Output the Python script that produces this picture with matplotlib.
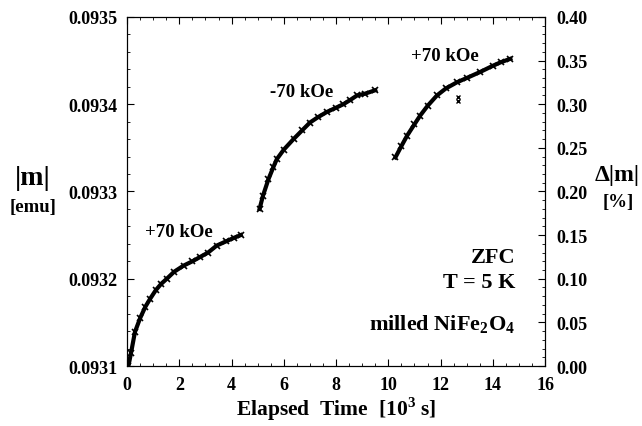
import numpy as np
import matplotlib
matplotlib.use("Agg")
import matplotlib.pyplot as plt
from matplotlib.ticker import MultipleLocator

plt.rcParams['font.family'] = ['Liberation Serif', 'DejaVu Serif']
plt.rcParams['font.weight'] = 'bold'
plt.rcParams['mathtext.fontset'] = 'custom'
plt.rcParams['mathtext.rm'] = 'Liberation Serif:bold'
plt.rcParams['mathtext.bf'] = 'Liberation Serif:bold'

# +70 kOe (first run)
t1 = [0.05, 0.15, 0.3, 0.5, 0.7, 0.88, 1.1, 1.3, 1.52, 1.8, 2.16, 2.5, 2.8,
      3.1, 3.43, 3.8, 4.1, 4.35]
m1 = [0.093100, 0.093115, 0.093139, 0.093155, 0.093168, 0.093177, 0.093187,
      0.093194, 0.093200, 0.093208, 0.093215, 0.093220, 0.093225, 0.093230,
      0.093238, 0.093243, 0.093247, 0.093250]

# -70 kOe
t2 = [5.07, 5.2, 5.41, 5.6, 5.73, 6.0, 6.37, 6.7, 7.0, 7.3, 7.64, 8.0, 8.28,
      8.55, 8.8, 9.1, 9.5]
m2 = [0.093280, 0.093295, 0.093314, 0.093328, 0.093337, 0.093348, 0.093360,
      0.093370, 0.093379, 0.093385, 0.093391, 0.093396, 0.093400, 0.093405,
      0.093410, 0.093412, 0.093416]

# +70 kOe (second run)
t3 = [10.27, 10.5, 10.72, 11.0, 11.22, 11.5, 11.86, 12.2, 12.62, 13.0, 13.52,
      14.0, 14.3, 14.67]
m3 = [0.093339, 0.093352, 0.093364, 0.093377, 0.093387, 0.093398, 0.093410,
      0.093418, 0.093425, 0.093430, 0.093437, 0.093444, 0.093448, 0.093452]

# stray points
t_out = [12.65, 12.68]
m_out = [0.093404, 0.093408]

fig = plt.figure(figsize=(6.42, 4.27), dpi=100)
ax = fig.add_axes([0.198, 0.1405, 0.651, 0.8175])

for t, m in [(t1, m1), (t2, m2), (t3, m3)]:
    ax.plot(t, m, color='black', lw=3, marker='x', ms=4, mew=1.2)
ax.plot(t_out, m_out, ls='none', color='black', marker='x', ms=3.5, mew=1)

ax.set_xlim(0, 16)
ax.set_ylim(0.0931, 0.0935)
ax.xaxis.set_major_locator(MultipleLocator(2))
ax.xaxis.set_minor_locator(MultipleLocator(0.5))
ax.yaxis.set_major_locator(MultipleLocator(0.0001))
ax.yaxis.set_minor_locator(MultipleLocator(0.00002))
ax.yaxis.set_major_formatter(plt.FuncFormatter(lambda v, p: f"{v:.4f}"))
ax.tick_params(which='both', direction='in', top=True, labelsize=13, pad=7)
ax.tick_params(which='major', length=5)
ax.tick_params(which='minor', length=2.5)

ax2 = ax.twinx()
ax2.set_ylim(0, 0.40)
ax2.yaxis.set_major_locator(MultipleLocator(0.05))
ax2.yaxis.set_minor_locator(MultipleLocator(0.01))
ax2.yaxis.set_major_formatter(plt.FuncFormatter(lambda v, p: f"{v:.2f}"))
ax2.tick_params(which='both', direction='in', labelsize=13, pad=8)
ax2.tick_params(which='major', length=5)
ax2.tick_params(which='minor', length=2.5)

ax.set_xlabel(r"Elapsed  Time  [10$^{3}$ s]", fontsize=15.5, fontweight='bold', labelpad=1)

fig.text(0.051, 0.583, "|m|", fontsize=20, ha='center', va='center')
fig.text(0.051, 0.515, "[emu]", fontsize=13.5, ha='center', va='center')
fig.text(0.962, 0.590, "Δ|m|", fontsize=17, ha='center', va='center')
fig.text(0.963, 0.525, "[%]", fontsize=13.5, ha='center', va='center')

ax.text(1.97, 0.0932547, "+70 kOe", fontsize=13.5, ha='center', va='center')
ax.text(6.69, 0.0934144, "-70 kOe", fontsize=13.5, ha='center', va='center')
ax.text(12.17, 0.0934556, "+70 kOe", fontsize=13.5, ha='center', va='center')

ax.text(14.85, 0.093225, "ZFC", fontsize=16, ha='right', va='center')
ax.text(14.85, 0.093196, "T = 5 K", fontsize=16, ha='right', va='center')
ax.text(14.85, 0.093148, r"milled NiFe$_2$O$_4$", fontsize=16, ha='right', va='center')

fig.savefig("out.png", dpi=100)
